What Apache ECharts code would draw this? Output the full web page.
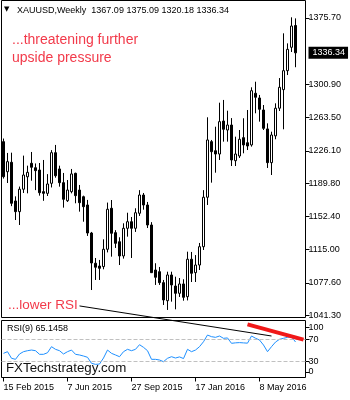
<!DOCTYPE html>
<html><head><meta charset="utf-8">
<script src="https://cdn.jsdelivr.net/npm/echarts@6/dist/echarts.min.js"></script>
<style>html,body{margin:0;padding:0;background:#fff}#c{width:350px;height:400px}</style>
</head><body><div id="c"></div>
<script>
const symbolName = 'XAUUSD,Weekly';
const categories = [
'15 Feb 2015','22 Feb 2015','1 Mar 2015','8 Mar 2015','15 Mar 2015','22 Mar 2015','29 Mar 2015','5 Apr 2015','12 Apr 2015','19 Apr 2015','26 Apr 2015',
'3 May 2015','10 May 2015','17 May 2015','24 May 2015','31 May 2015','7 Jun 2015','14 Jun 2015','21 Jun 2015','28 Jun 2015','5 Jul 2015','12 Jul 2015',
'19 Jul 2015','26 Jul 2015','2 Aug 2015','9 Aug 2015','16 Aug 2015','23 Aug 2015','30 Aug 2015','6 Sep 2015','13 Sep 2015','20 Sep 2015','27 Sep 2015',
'4 Oct 2015','11 Oct 2015','18 Oct 2015','25 Oct 2015','1 Nov 2015','8 Nov 2015','15 Nov 2015','22 Nov 2015','29 Nov 2015','6 Dec 2015','13 Dec 2015',
'20 Dec 2015','27 Dec 2015','3 Jan 2016','10 Jan 2016','17 Jan 2016','24 Jan 2016','31 Jan 2016','7 Feb 2016','14 Feb 2016','21 Feb 2016','28 Feb 2016',
'6 Mar 2016','13 Mar 2016','20 Mar 2016','27 Mar 2016','3 Apr 2016','10 Apr 2016','17 Apr 2016','24 Apr 2016','1 May 2016','8 May 2016','15 May 2016',
'22 May 2016','29 May 2016','5 Jun 2016','12 Jun 2016','19 Jun 2016','26 Jun 2016','3 Jul 2016','10 Jul 2016','17 Jul 2016','24 Jul 2016'];
const opens = [1236.5,1202.7,1213.3,1169.8,1157.8,1183,1197,1212.2,1207.2,1204.6,1180.3,1178.4,1189.7,1224.1,1205.8,1190.4,1170.1,1180.3,1200.9,1182.1,
1174.6,1165.3,1133.8,1099.8,1096.7,1096,1115.5,1161.6,1134.2,1124,1108,1139.1,1146.5,1139.1,1156,1176.5,1165.3,1142.8,1092.2,1090.3,
1078,1057.7,1086.6,1074.2,1066,1076.5,1062.2,1104.3,1089.2,1097.8,1118.4,1174,1236.5,1226.3,1222.6,1259.7,1249.6,1255.2,1215.1,1220.4,
1241,1235.3,1232.8,1290.9,1285.6,1272.1,1250.8,1212.9,1243,1274.1,1295,1316.3,1342.6,1367.09];
const highs = [1240,1223.8,1224.1,1175,1186,1220.8,1209.5,1224.9,1212,1212.5,1215.9,1200,1227,1232.8,1209.5,1201.3,1193.4,1205.8,1201.6,1187.8,
1175.8,1171,1135,1105.7,1103.5,1126.7,1168,1170.9,1137,1129,1144.7,1156.6,1151.8,1161.6,1182,1178.8,1168.7,1146,1099.8,1095.6,
1081,1090.3,1090.3,1084.7,1083.2,1081.8,1112.8,1112.5,1109,1122.6,1182,1263.9,1238.4,1253.3,1280.3,1283.4,1271.3,1263,1242.1,1249.6,
1262.8,1272.1,1297.6,1303.9,1289,1277.7,1257.1,1247.7,1279.6,1308,1358.3,1347,1376.3,1375.09];
const lows = [1195,1190,1164,1148.4,1142.8,1178.8,1178.4,1192.6,1182,1175.8,1170,1175.4,1185,1196,1185.9,1162.3,1168.7,1178.4,1167.2,1157.8,
1146.5,1130.5,1069.7,1081,1081,1093,1112,1107.2,1117,1097.8,1105,1129.7,1105.7,1135,1153,1160,1139.4,1088.8,1075.4,1075.4,
1052.9,1047.3,1056.6,1048,1061.9,1057.7,1058,1078.7,1078.7,1092.2,1114.7,1165.3,1190.4,1201.6,1215.9,1236.5,1236.5,1209.1,1209.1,1218.1,
1223.4,1227.1,1230.9,1268.4,1259,1249.6,1206.9,1199,1239.2,1271,1250.4,1311.4,1337.3,1320.18];
const closes = [1197.1,1214,1167.2,1157.8,1183,1199,1202,1207.7,1203.9,1179.1,1178.4,1188.9,1224.1,1198.2,1190.4,1171.7,1182.1,1200.2,1175.8,1167.9,
1163.4,1133.8,1100.1,1095.3,1094.1,1115.5,1160.5,1133.5,1122.2,1108,1139.1,1146.5,1139.1,1156.6,1176.5,1165.3,1142.8,1089.2,1084,1078,
1058.5,1086.6,1075.4,1066,1076.5,1061.5,1104.3,1088.5,1097.8,1118.4,1174,1238.4,1225.2,1222.6,1259,1250.4,1255.2,1215.9,1222.6,1239.2,
1232.8,1231.6,1293.8,1286.4,1272.9,1251.5,1212.9,1244,1274.1,1297.6,1316.3,1340.3,1366.5,1336.34];
const rsiValues = [44.5,47.5,35.5,33.6,43.3,47.5,49.3,50.5,49.3,42.7,42.7,45.6,56.6,51.8,49.3,43.3,47.5,50.5,42.7,41.5,
39.6,37.3,26.3,24.5,25,36,50.5,44.5,41.5,38.4,47.5,51.8,49.3,51.8,60.2,55.4,49.3,33.6,33.6,32.4,
29.3,35.5,38.4,36,38,35,51.8,47.5,50.5,56.6,65.6,77.8,74.8,73.6,76,71.8,72.5,62.7,63.6,64,
63.5,63,76,72,68.7,59.6,47.5,56.6,65,70,71.8,73.6,74.8,65.1458];
const priceTicks = [1041.30,1077.60,1115.00,1152.40,1189.80,1226.10,1263.50,1300.90,1375.70];
const rsiTickValues = [10.6,30,70,91.8];
const rsiTickLabels = ['0','30','70','100'];
const rsiLevels = [70,30];
const redTrend = [[61,97.1],[75,69.5]];
const blackTrendStart = [19,1051.8];   // price panel
const blackTrendEnd = [67,76];         // RSI panel

const font = '"Liberation Sans", Arial, sans-serif';
const red = '#f23a4a';
const n = opens.length;
const lastPrice = closes[n-1];
const candleData = opens.map((o,i)=>[o, closes[i], lows[i], highs[i]]);
const title = symbolName + '  ' + [opens[n-1],highs[n-1],lows[n-1],closes[n-1]].map(v=>v.toFixed(2)).join(' ');

const chart = echarts.init(document.getElementById('c'), null, {renderer:'canvas'});
const option = {
  animation:false,
  backgroundColor:'#fff',
  textStyle:{fontFamily:font},
  grid:[
    {left:1.5, width:304, top:0.5, height:317, show:true, borderColor:'#000', borderWidth:1},
    {left:1.5, width:304, top:320.5, height:57, show:true, borderColor:'#000', borderWidth:1}
  ],
  xAxis:[
    {type:'category', gridIndex:0, data:categories, show:false, boundaryGap:true},
    {type:'category', gridIndex:1, data:categories, boundaryGap:true,
     axisLine:{show:false},
     axisTick:{show:true, interval:15, alignWithLabel:true, length:4, lineStyle:{color:'#000'}},
     axisLabel:{interval:15, align:'left', fontSize:9, color:'#000', margin:6, fontFamily:font},
     splitLine:{show:false}}
  ],
  yAxis:[
    {type:'value', gridIndex:0, position:'right', min:1038.8, max:1395.2, scale:true,
     axisLine:{show:false}, splitLine:{show:false},
     axisTick:{show:true, length:4, customValues:priceTicks, lineStyle:{color:'#000'}},
     axisLabel:{customValues:priceTicks, formatter:v=>Number(v).toFixed(2), fontSize:9, color:'#000', margin:3, fontFamily:font}},
    {type:'value', gridIndex:1, position:'right', min:0.56, max:104.2,
     axisLine:{show:false}, splitLine:{show:false},
     axisTick:{show:true, length:4, customValues:rsiTickValues, lineStyle:{color:'#000'}},
     axisLabel:{customValues:rsiTickValues, fontSize:9, color:'#000', margin:3, fontFamily:font,
       formatter:v=>{const k=rsiTickValues.findIndex(t=>Math.abs(t-v)<0.01);return k>=0?rsiTickLabels[k]:'';}}}
  ],
  series:[
    {type:'candlestick', xAxisIndex:0, yAxisIndex:0, data:candleData, barWidth:3,
     itemStyle:{color:'#fff', color0:'#000', borderColor:'#000', borderColor0:'#000', borderWidth:1},
     markLine:{silent:true, symbol:'none', animation:false,
       lineStyle:{color:'rgba(0,0,0,0)', width:0},
       label:{show:true, position:'end', formatter:lastPrice.toFixed(2), backgroundColor:'#000', color:'#fff',
              fontSize:9, fontFamily:font, padding:[2,3,1,4], distance:3},
       data:[{yAxis:lastPrice}]}},
    {type:'line', xAxisIndex:1, yAxisIndex:1, data:rsiValues, showSymbol:false, symbol:'none',
     lineStyle:{color:'#1e90ff', width:1},
     markLine:{silent:true, symbol:'none', animation:false, label:{show:false},
       data:[
         ...rsiLevels.map(l=>({yAxis:l, lineStyle:{color:'#c0c0c0', type:'dashed', width:1}})),
         [{coord:[categories[redTrend[0][0]], redTrend[0][1]], lineStyle:{color:'#f01818', width:4, type:'solid'}},
          {coord:[categories[redTrend[1][0]], redTrend[1][1]]}]
       ]}}
  ]
};
chart.setOption(option);

const p1 = chart.convertToPixel({gridIndex:0}, [categories[blackTrendStart[0]], blackTrendStart[1]]);
const p2 = chart.convertToPixel({gridIndex:1}, [categories[blackTrendEnd[0]], blackTrendEnd[1]]);

chart.setOption({graphic:[
  {type:'text', left:4, top:6, style:{text:'▼', font:'7px "DejaVu Sans"', fill:'#000'}},
  {type:'text', left:17, top:6, style:{text:title, font:'9px '+font, fill:'#000'}},
  {type:'text', left:12, top:33, style:{text:'...threatening further', font:'14px '+font, fill:red}},
  {type:'text', left:12, top:51, style:{text:'upside pressure', font:'14px '+font, fill:red}},
  {type:'text', left:8, top:298, style:{text:'...lower RSI', font:'13.5px '+font, fill:red}},
  {type:'text', left:7, top:324, style:{text:'RSI(9) '+rsiValues[n-1].toFixed(4), font:'9px '+font, fill:'#000'}},
  {type:'text', left:6, top:362, style:{text:'FXTechstrategy.com', font:'13.3px '+font, fill:'#111'}},
  {type:'line', shape:{x1:p1[0], y1:p1[1], x2:p2[0], y2:p2[1]}, style:{stroke:'#000', lineWidth:1}, z:100}
]});
</script>
</body></html>
